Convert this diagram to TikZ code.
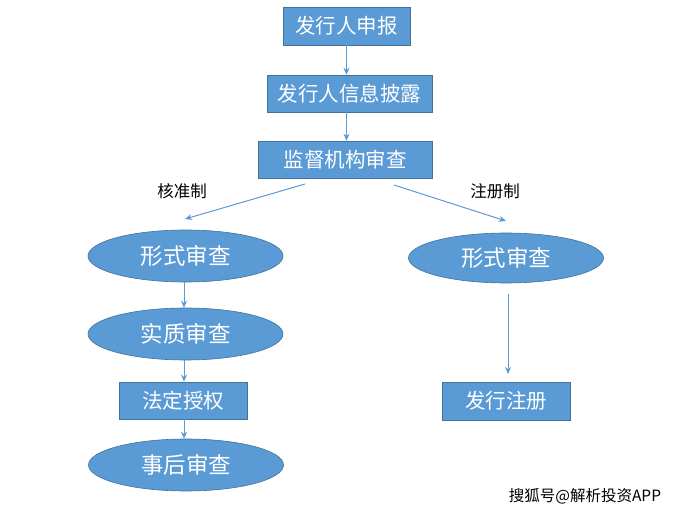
\documentclass[tikz,border=0pt]{standalone}
\usepackage{fontspec}
\setmainfont{Noto Sans CJK SC}
\usetikzlibrary{shapes.geometric,arrows.meta}
\definecolor{boxfill}{HTML}{5B9BD5}
\definecolor{boxline}{HTML}{41719C}
\definecolor{arrowc}{HTML}{5B9BD5}
\tikzset{
  rectbox/.style={draw=boxline,line width=0.6pt,fill=boxfill,text=white,inner sep=0pt,font=\fontsize{20.5}{22}\selectfont},
  ellbox/.style={ellipse,draw=boxline,line width=0.6pt,fill=boxfill,text=white,inner sep=0pt,minimum width=195pt,minimum height=52pt,font=\fontsize{22.5}{24}\selectfont},
  conn/.style={draw=arrowc,line width=1pt,-{Stealth[length=7pt,width=6pt]}},
  lbl/.style={text=black,font=\fontsize{16.5}{18}\selectfont,inner sep=0pt}
}
\begin{document}
\begin{tikzpicture}[x=1pt,y=-1pt]
\useasboundingbox (0,0) rectangle (677,513);
\node[rectbox,minimum width=127pt,minimum height=38pt] (b1) at (346.5,26) {发行人申报};
\node[rectbox,minimum width=165pt,minimum height=37pt] (b2) at (349.5,93.5) {发行人信息披露};
\node[rectbox,minimum width=174pt,minimum height=37pt] (b3) at (345,159.5) {监督机构审查};
\node[lbl] (l1) at (182,191) {核准制};
\node[lbl] (l2) at (495,191) {注册制};
\node[ellbox] (e1) at (185.5,256) {形式审查};
\node[ellbox,minimum height=50pt] (e2) at (506,258) {形式审查};
\node[ellbox] (e3) at (185.5,334) {实质审查};
\node[rectbox,minimum width=128pt,minimum height=37pt] (b4) at (183,400.5) {法定授权};
\node[ellbox] (e4) at (186,465) {事后审查};
\node[rectbox,minimum width=128pt,minimum height=38pt] (b5) at (506,401) {发行注册};
\node[text=black,inner sep=0pt,font=\fontsize{15.5}{17}\selectfont] (wm) at (585,496) {搜狐号@解析投资APP};
\coordinate (dl0) at (305,184);
\coordinate (dl1) at (185,219);
\coordinate (dr0) at (394,185);
\coordinate (dr1) at (506,221);
\coordinate (vr0) at (508,294);
\coordinate (vr1) at (508,374);
\draw[conn] (b1.south) -- (b1.south |- b2.north);
\draw[conn] (b2.south -| b1.south) -- (b1.south |- b3.north);
\draw[conn] (dl0) -- (dl1);
\draw[conn] (dr0) -- (dr1);
\draw[conn] (e1.south -| 184,0) -- (e3.north -| 184,0);
\draw[conn] (e3.south -| 184,0) -- (b4.north -| 184,0);
\draw[conn] (b4.south -| 184,0) -- (e4.north -| 184,0);
\draw[conn] (vr0) -- (vr1);
\end{tikzpicture}
\end{document}
